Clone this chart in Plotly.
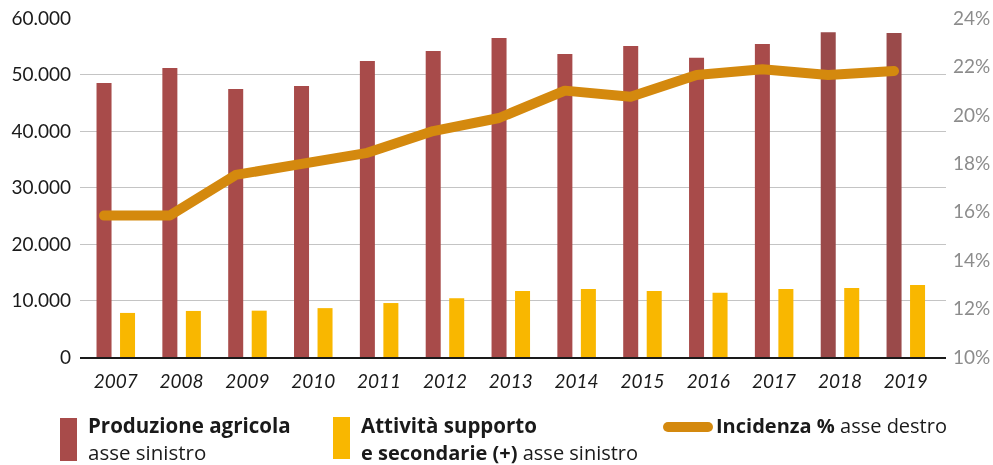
import plotly.graph_objects as go

years = [2007, 2008, 2009, 2010, 2011, 2012, 2013, 2014, 2015, 2016, 2017, 2018, 2019]
year_labels = [str(y) for y in years]
produzione_agricola = [48500, 51150, 47450, 47950, 52400, 54150, 56450, 53650, 55050, 52950, 55400, 57500, 57350]
attivita_supporto = [7800, 8150, 8200, 8650, 9550, 10400, 11700, 12050, 11700, 11350, 12050, 12200, 12750]
incidenza_pct = [15.84, 15.84, 17.52, 17.93, 18.43, 19.33, 19.87, 21.0, 20.75, 21.65, 21.88, 21.65, 21.81]

RED = "#A84B4A"
RED_DARK = "#9A4A4A"
YELLOW = "#F9B700"
ORANGE = "#D4890E"

red_colors = [RED] * 11 + [RED_DARK] * 2

fig = go.Figure()
fig.add_trace(go.Bar(
    x=years, y=produzione_agricola, marker=dict(color=red_colors, line=dict(width=0)),
    width=0.228, offset=-0.292, name="Produzione agricola", showlegend=False,
))
fig.add_trace(go.Bar(
    x=years, y=attivita_supporto, marker=dict(color=YELLOW, line=dict(width=0)),
    width=0.228, offset=0.065, name="Attività supporto", showlegend=False,
))
fig.add_trace(go.Scatter(
    x=years, y=incidenza_pct, mode="lines", line=dict(color=ORANGE, width=10),
    xaxis="x2", yaxis="y2", cliponaxis=False, name="Incidenza %", showlegend=False,
))

L, R, T, B = 80, 47, 18, 108
W, H = 993, 465
pw = W - L - R
ph = H - T - B

def px(x):
    return (x - L) / pw

def py(y):
    return (H - B - y) / ph

shapes = [
    dict(type="rect", xref="paper", yref="paper", x0=px(60), x1=px(77), y0=py(461), y1=py(418),
         fillcolor=RED, line=dict(width=0)),
    dict(type="rect", xref="paper", yref="paper", x0=px(333), x1=px(350), y0=py(459), y1=py(417),
         fillcolor=YELLOW, line=dict(width=0)),
    dict(type="line", xref="paper", yref="paper", x0=px(668), x1=px(708), y0=py(427), y1=py(427),
         line=dict(color=ORANGE, width=10)),
]

def ann(x, y, text, size):
    return dict(xref="paper", yref="paper", x=px(x), y=py(y), xanchor="left", yanchor="middle",
                align="left", showarrow=False,
                font=dict(family="Open Sans", size=size, color="#1a1a1a"), text=text)

annotations = [
    ann(86, 425, "<b>Produzione agricola</b>", 20.5),
    ann(86, 452, "asse sinistro", 20.5),
    ann(359, 425, "<b>Attività supporto</b>", 20.5),
    ann(359, 452, "<b>e secondarie (+)</b> asse sinistro", 20),
    ann(714, 425, "<b>Incidenza %</b> asse destro", 20),
]

fig.update_layout(
    width=W, height=H,
    margin=dict(l=L, r=R, t=T, b=B, pad=0, autoexpand=False),
    paper_bgcolor="white", plot_bgcolor="white",
    barmode="overlay",
    separators=",.",
    showlegend=False,
    font=dict(family="Lato", size=18, color="#222"),
    xaxis=dict(
        range=[2006.457, 2019.611], tickvals=years, ticktext=year_labels,
        tickfont=dict(family="Lato", size=19, style="italic", color="#1a1a1a"),
        showgrid=False, zeroline=False, showline=True, linecolor="#1a1a1a", linewidth=1.5,
        ticks="", ticklabelstandoff=6, automargin=False,
    ),
    xaxis2=dict(
        range=[2006.6355, 2019.7895], overlaying="x", visible=False,
    ),
    yaxis=dict(
        range=[0, 60000], dtick=10000, tickformat=",d",
        tickfont=dict(family="Lato", size=19, color="#1a1a1a"),
        showgrid=True, gridcolor="#c4c4c4", gridwidth=1, zeroline=False,
        ticks="", ticklabelstandoff=8, automargin=False,
    ),
    yaxis2=dict(
        range=[10, 24], dtick=2, ticksuffix="%", overlaying="y", side="right",
        tickfont=dict(family="Lato", size=19, color="#8c8c8c"),
        showgrid=False, zeroline=False, ticks="", ticklabelstandoff=6, automargin=False,
    ),
    shapes=shapes,
    annotations=annotations,
)

post = """
document.body.style.margin='0';
document.body.style.overflow='hidden';
var gd = document.getElementById('{plot_id}');
function blendIt(){
  gd.querySelectorAll('.scatterlayer .trace path.js-line').forEach(function(p){
    p.style.mixBlendMode='multiply'; p.style.strokeLinecap='round'; p.style.strokeLinejoin='round';
  });
  gd.querySelectorAll('.barlayer .trace').forEach(function(t){ t.style.mixBlendMode='multiply'; });
  gd.querySelectorAll('.shapelayer path').forEach(function(p){ p.style.strokeLinecap='round'; });
}
blendIt();
gd.on('plotly_afterplot', blendIt);
"""

fig.write_html("out.html", post_script=post, config={"displayModeBar": False})
